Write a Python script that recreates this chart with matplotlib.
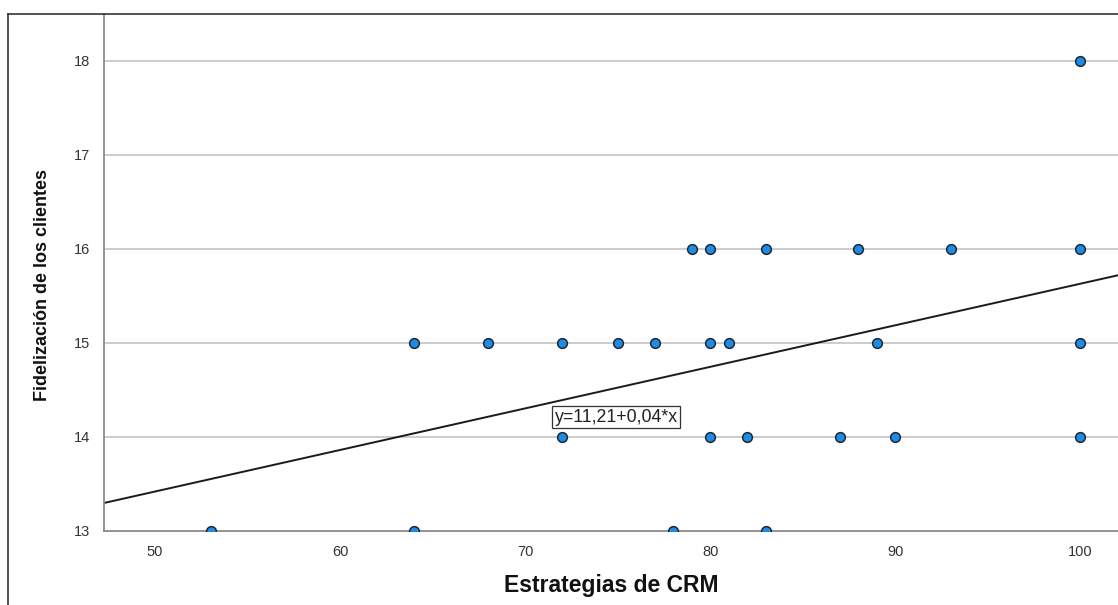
import numpy as np
import matplotlib.pyplot as plt
from matplotlib.lines import Line2D

plt.rcParams['font.family'] = ['Liberation Sans', 'DejaVu Sans']

# data
crm = [100,
       79, 80, 83, 88, 93, 100,
       64, 68, 72, 75, 77, 80, 81, 89, 100,
       72, 80, 82, 87, 90, 100,
       53, 64, 78, 83]
fidel = [18,
         16, 16, 16, 16, 16, 16,
         15, 15, 15, 15, 15, 15, 15, 15, 15,
         14, 14, 14, 14, 14, 14,
         13, 13, 13, 13]

# fit line as drawn
intercept = 11.21
slope = 0.0442
eq_label = "y=11,21+0,04*x"

xticks = [50, 60, 70, 80, 90, 100]
yticks = [13, 14, 15, 16, 17, 18]

fig = plt.figure(figsize=(11.18, 6.05), dpi=100)
ax = fig.add_axes([104/1118, 74/605, 1014/1118, 517/605])

ax.set_xlim(47.24, 102.05)
ax.set_ylim(13, 18.5)

for yv in yticks[1:]:
    ax.axhline(yv, color='#c8c8c8', lw=1.3, zorder=1)

xs = np.array(ax.get_xlim())
ax.plot(xs, intercept + slope * xs, color='#1a1a1a', lw=1.4, zorder=2)

ax.plot(crm, fidel, 'o', ms=7.0, mfc='#1e8ce6', mec='#1c2833', mew=1.1,
        zorder=3, clip_on=True)

ax.text(71.6, 14.21, eq_label, fontsize=12.8, ha='left', va='center', color='#222222',
        bbox=dict(boxstyle='square,pad=0.15', fc='white', ec='#333333', lw=0.9), zorder=4)

ax.set_xticks(xticks)
ax.set_yticks(yticks)
ax.tick_params(length=0, labelsize=10.5, colors='#333333')
ax.tick_params(axis='y', pad=10)
ax.tick_params(axis='x', pad=10)
for s in ['top', 'right']:
    ax.spines[s].set_visible(False)
for s in ['left', 'bottom']:
    ax.spines[s].set_color('#8a8a8a')
    ax.spines[s].set_linewidth(1.3)

ax.set_xlabel("Estrategias de CRM", fontsize=16.5, fontweight='bold', color='#111111', labelpad=11)
ax.set_ylabel("Fidelización de los clientes", fontsize=13, fontweight='bold', color='#111111')
ax.yaxis.set_label_coords(-0.052, 0.476)

# outer frame
fig.add_artist(Line2D([8/1118, 8/1118], [0, 1 - 14/605], transform=fig.transFigure, color='#333333', lw=1.2))
fig.add_artist(Line2D([8/1118, 1], [1 - 14/605, 1 - 14/605], transform=fig.transFigure, color='#333333', lw=1.2))

fig.savefig("out.png", dpi=100)
